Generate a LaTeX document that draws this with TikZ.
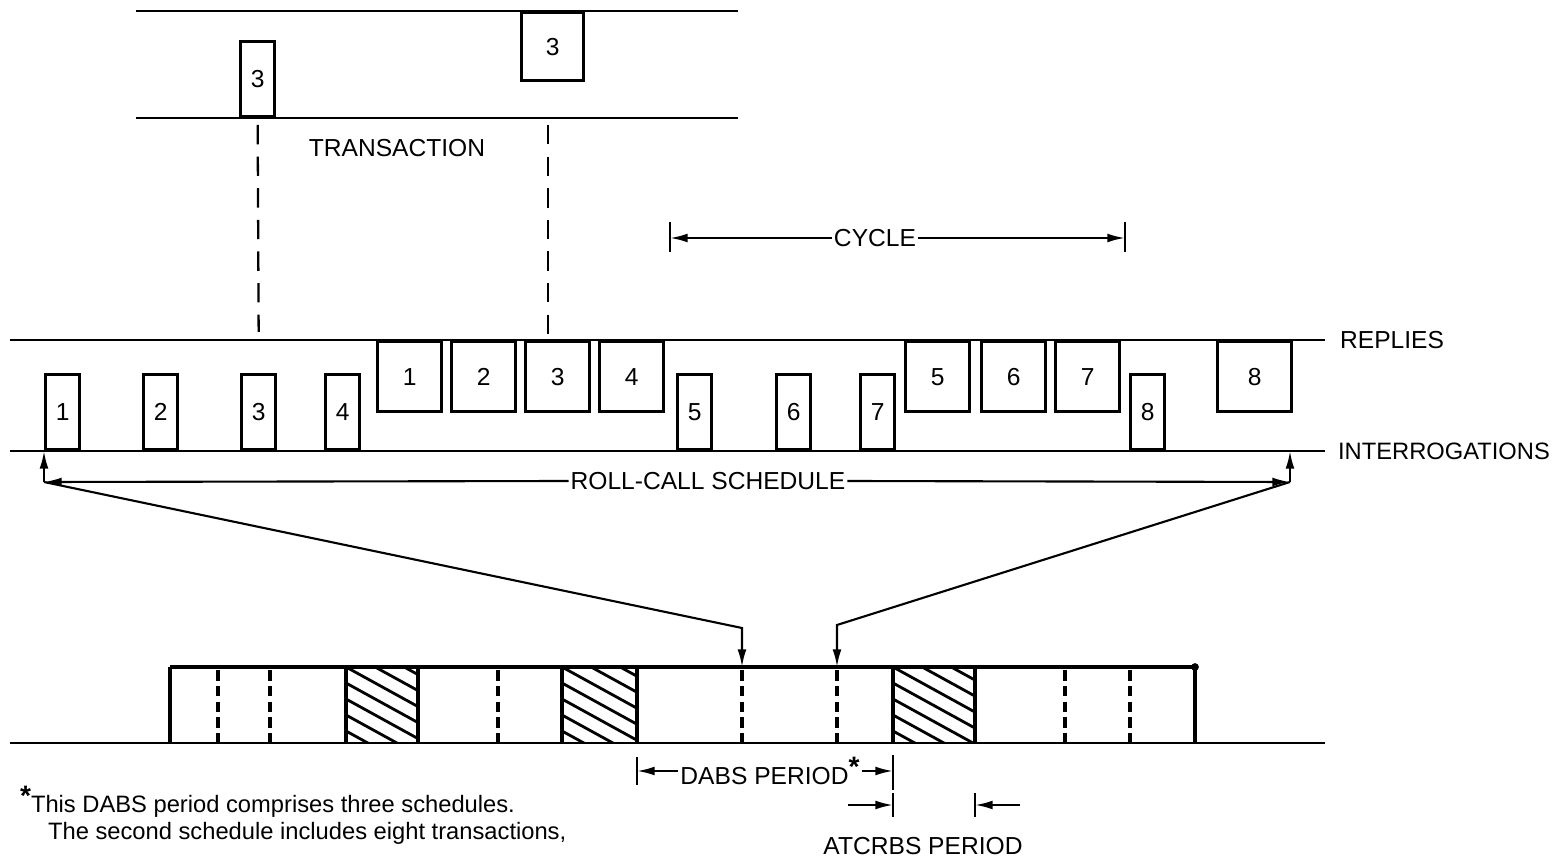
\documentclass[tikz,border=0pt]{standalone}
\usepackage{fontspec}
\setmainfont{Liberation Sans}
\usetikzlibrary{arrows.meta}

\newcommand{\fnstar}{\raisebox{0.55ex}{\bfseries\fontsize{16}{16}\selectfont *}}

\begin{document}
\begin{tikzpicture}[x=0.02cm, y=-0.02cm,
  lbl/.style={font=\fontsize{14}{16}\selectfont, inner sep=1pt},
  ipulse/.style={draw, line width=1.9pt, fill=white, inner sep=0pt, minimum width=0.68cm, minimum height=1.5cm, font=\fontsize{14}{16}\selectfont},
  rpulse/.style={draw, line width=1.9pt, fill=white, inner sep=0pt, minimum width=1.28cm, minimum height=1.4cm, font=\fontsize{14}{16}\selectfont},
  rail/.style={line width=1.2pt},
  dim/.style={line width=1.2pt, -{Latex[length=10pt,width=5pt]}},
  bar/.style={line width=1.5pt},
  slot/.style={line width=1.9pt, dash pattern=on 6pt off 3pt},
  link/.style={line width=1.3pt, dash pattern=on 11pt off 7pt},
  hatch/.style={line width=1.6pt}]
  \useasboundingbox (0,0) rectangle (1560,861);

  \draw[rail] (136,11) -- (738,11);
  \draw[rail] (136,118) -- (738,118);
  \node[ipulse, anchor=south west] (ti3) at (239,118) {3};
  \node[rpulse, anchor=north west, minimum width=1.24cm, minimum height=1.36cm] (tr3) at (520,11) {3};
  \node[lbl] (trans) at (397,148) {TRANSACTION};

  \draw[rail] (10,340) -- (1325,340);
  \draw[rail] (10,451) -- (1325,451);
  \node[lbl, anchor=west] (rep) at (1338,340) {REPLIES};
  \node[lbl, anchor=west, font=\fontsize{13.5}{16}\selectfont] (int) at (1336,451) {INTERROGATIONS};
  \foreach \n/\x in {1/44,2/142,3/240,4/324,5/676,6/775,7/859,8/1129}
    \node[ipulse, anchor=south west] (i\n) at (\x,451) {\n};
  \foreach \n/\x in {1/376,2/450,3/524,4/598,5/904,6/980,7/1054}
    \node[rpulse, anchor=north west] (r\n) at (\x,340) {\n};
  \node[rpulse, anchor=north west, minimum width=1.48cm] (r8) at (1216,340) {8};

  \draw[link] (ti3.south |- 0,125) -- (i3.north |- 0,332);
  \draw[link] (548,125) -- (548,335);

  \node[lbl] (cyc) at (875,238) {CYCLE};
  \coordinate (cycL) at (670,238);
  \coordinate (cycR) at (1125,238);
  \draw[bar] (670,222) -- (670,252);
  \draw[bar] (1125,222) -- (1125,252);
  \draw[dim] (cyc.west) -- (cycL);
  \draw[dim] (cyc.east) -- (cycR);

  \node[lbl] (rcs) at (708,481) {ROLL-CALL SCHEDULE};
  \coordinate (rcL) at (44,482);
  \coordinate (rcR) at (1290,482);
  \coordinate (endI) at (1290,451);
  \draw[dim] (rcs.west) -- (rcL);
  \draw[dim] (rcs.east) -- (rcR);
  \draw[dim] (rcL) -- (i1.south west);
  \draw[dim] (rcR) -- (endI);

  \draw[rail] (10,743) -- (1325,743);
  \draw[line width=2.2pt] (170,667) -- (1195,667);
  \fill (1195,667) circle (2.2pt);
  \foreach \a/\b in {346/418, 562/637, 893/975} {
    \begin{scope}
      \clip (\a,667) rectangle (\b,743);
      \foreach \k in {-4,...,5}
        \draw[hatch] (\a,667+\k*16) -- ++(120,66);
    \end{scope}
  }
  \foreach \x in {170,346,418,562,637,893,975,1195}
    \draw[line width=1.9pt] (\x,667) -- (\x,743);
  \foreach \x in {218,270,498,742,837,1065,1130}
    \draw[slot] (\x,670) -- (\x,743);
  \coordinate (s1) at (742,667);
  \coordinate (s2) at (837,667);
  \draw[dim] (rcL) -- (742,628) -- (s1);
  \draw[dim] (rcR) -- (837,625) -- (s2);

  \node[lbl] (dabs) at (770,771) {DABS PERIOD\fnstar};
  \draw[bar] (637,757) -- (637,785);
  \draw[bar] (893,755) -- (893,790);
  \draw[dim] (dabs.west) -- (637,771);
  \draw[dim] (dabs.east) -- (893,771);

  \draw[bar] (893,793) -- (893,817);
  \draw[bar] (975,793) -- (975,817);
  \coordinate (atL) at (848,805);
  \coordinate (atR) at (1020,805);
  \draw[dim] (atL) -- (893,805);
  \draw[dim] (atR) -- (975,805);
  \node[lbl] (atc) at (923,846) {ATCRBS PERIOD};

  \node[lbl, anchor=base west, font=\fontsize{13.5}{16}\selectfont] (fn1) at (18,812) {\fnstar This DABS period comprises three schedules.};
  \node[lbl, anchor=base west, font=\fontsize{13.5}{16}\selectfont] (fn2) at (46,839) {The second schedule includes eight transactions,};
\end{tikzpicture}
\end{document}
